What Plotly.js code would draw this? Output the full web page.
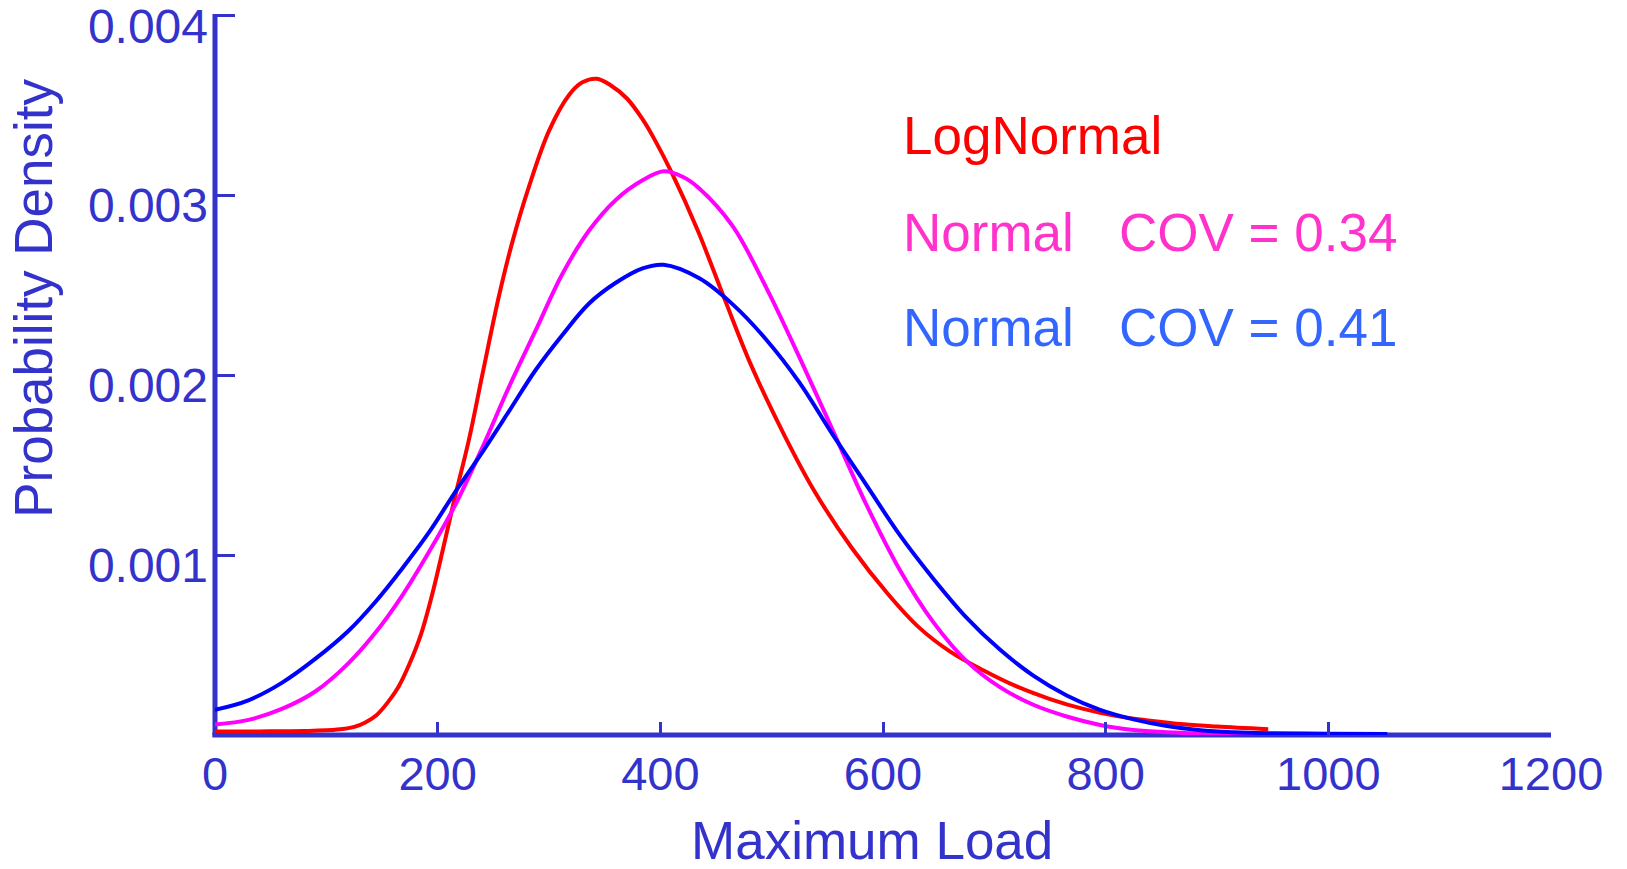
<!DOCTYPE html>
<html>
<head>
<meta charset="utf-8">
<script src="https://cdn.plot.ly/plotly-3.0.1.min.js"></script>
<style>
  html, body { margin: 0; padding: 0; background: #ffffff; }
  #chart { width: 1627px; height: 869px; }
</style>
</head>
<body>
<div id="chart"></div>
<script>
// ---- data ----
const loadLogNormal = [0, 40, 80, 110, 125, 135, 145, 155, 165, 175, 185, 195, 205, 215, 228, 240, 255, 267, 282, 300, 318, 330, 343, 355, 370, 384, 395, 410, 434, 458, 482, 512, 539, 572, 605, 632, 660, 690, 720, 750, 780, 810, 840, 870, 900, 946];
const densLogNormal = [0.00002, 0.00002, 0.000022, 0.00003, 0.000045, 0.00007, 0.00011, 0.00018, 0.00027, 0.00040, 0.00056, 0.00078, 0.00104, 0.00131, 0.00164, 0.00200, 0.00244, 0.00274, 0.00305, 0.00336, 0.00356, 0.00363, 0.00365, 0.003615, 0.00354, 0.003425, 0.00331, 0.00313, 0.00280, 0.00242, 0.00205, 0.00166, 0.00135, 0.00104, 0.00078, 0.00060, 0.000465, 0.00036, 0.00027, 0.00020, 0.000145, 0.000105, 0.00008, 0.00006, 0.000047, 0.000032];

const loadNormal34 = [0, 30, 60, 90, 120, 144, 168, 192, 216, 240, 264, 288, 312, 336, 360, 384, 403, 420, 435, 465, 495, 525, 555, 585, 615, 645, 675, 705, 735, 765, 795, 825, 855, 885, 915, 950];
const densNormal34 = [0.000058, 0.000084, 0.000145, 0.000242, 0.00040, 0.000568, 0.000774, 0.001016, 0.001282, 0.001597, 0.001935, 0.00225, 0.002564, 0.002806, 0.002976, 0.003085, 0.003135, 0.003105, 0.00304, 0.00283, 0.00249, 0.00210, 0.001693, 0.001282, 0.000919, 0.000629, 0.000411, 0.000266, 0.000168, 0.000103, 0.000056, 0.000028, 0.000015, 0.000008, 0.000004, 0.000002];

const loadNormal41 = [0, 30, 60, 90, 120, 144, 168, 192, 216, 240, 264, 288, 312, 336, 360, 384, 403, 435, 465, 495, 525, 555, 585, 615, 645, 675, 705, 735, 765, 795, 825, 855, 885, 915, 946, 1000, 1053];
const densNormal41 = [0.00014, 0.000193, 0.00029, 0.000423, 0.00058, 0.00074, 0.000925, 0.001125, 0.001354, 0.001572, 0.00180, 0.00203, 0.002225, 0.00240, 0.002515, 0.002595, 0.002615, 0.00254, 0.002395, 0.00220, 0.00196, 0.001669, 0.001391, 0.001113, 0.000871, 0.000653, 0.000475, 0.00033, 0.00022, 0.00014, 0.000087, 0.00005, 0.000026, 0.000015, 0.00001, 0.000007, 0.000005];

const xTickVals = [0, 200, 400, 600, 800, 1000, 1200];
const xTickText = ["0", "200", "400", "600", "800", "1000", "1200"];
const yTickVals = [0.001, 0.002, 0.003, 0.004];
const yTickText = ["0.001", "0.002", "0.003", "0.004"];

const xTitle = "Maximum Load";
const yTitle = "Probability Density";
const labelNames = ["LogNormal", "Normal", "Normal"];
const labelCovs = ["", "COV = 0.34", "COV = 0.41"];

// ---- styling ----
const axisColor = "#3333cc";
const fontFam = "'Liberation Sans', Arial, Helvetica, sans-serif";
const lineColors = ["#ff0000", "#ff00ff", "#0000ff"];
const labelColors = ["#ff0000", "#ff33cc", "#3366ff"];
const labelY = [0.003332, 0.002797, 0.002269];
const labelXName = 616;
const labelXCov = 810;

const lineStyle = (c) => ({color: c, width: 4, shape: "spline", smoothing: 1});
const traces = [
  {x: loadLogNormal, y: densLogNormal, mode: "lines", line: lineStyle(lineColors[0]), hoverinfo: "skip"},
  {x: loadNormal34, y: densNormal34, mode: "lines", line: lineStyle(lineColors[1]), hoverinfo: "skip"},
  {x: loadNormal41, y: densNormal41, mode: "lines", line: lineStyle(lineColors[2]), hoverinfo: "skip"}
];

const annotations = [];
for (let i = 0; i < 3; i++) {
  annotations.push({x: labelXName, y: labelY[i], xref: "x", yref: "y", text: labelNames[i], showarrow: false,
    xanchor: "left", yanchor: "middle", font: {family: fontFam, size: 53, color: labelColors[i]}});
  if (labelCovs[i]) {
    annotations.push({x: labelXCov, y: labelY[i], xref: "x", yref: "y", text: labelCovs[i], showarrow: false,
      xanchor: "left", yanchor: "middle", font: {family: fontFam, size: 53, color: labelColors[i]}});
  }
}
annotations.push({x: 0.4918, y: -0.146, xref: "paper", yref: "paper", text: xTitle, showarrow: false,
  xanchor: "center", yanchor: "middle", font: {family: fontFam, size: 53, color: axisColor}});
annotations.push({x: -0.1355, y: 0.6063, xref: "paper", yref: "paper", text: yTitle, showarrow: false, textangle: -90,
  xanchor: "center", yanchor: "middle", font: {family: fontFam, size: 53, color: axisColor}});

const layout = {
  width: 1627, height: 869,
  margin: {l: 215, r: 76, t: 14, b: 134, pad: 0},
  paper_bgcolor: "#ffffff", plot_bgcolor: "#ffffff",
  showlegend: false,
  font: {family: fontFam, color: axisColor},
  xaxis: {
    range: [0, 1200], tickmode: "array", tickvals: xTickVals, ticktext: xTickText,
    ticks: "inside", ticklen: 13, tickwidth: 3, tickcolor: axisColor,
    showline: false, showgrid: false, zeroline: false, ticklabelstandoff: 7,
    ticklabeloverflow: "allow",
    tickfont: {family: fontFam, size: 47, color: axisColor}, fixedrange: true
  },
  yaxis: {
    range: [0, 0.00401], tickmode: "array", tickvals: yTickVals, ticktext: yTickText,
    ticks: "inside", ticklen: 20, tickwidth: 3, tickcolor: axisColor,
    showline: false, showgrid: false, zeroline: false, ticklabelstandoff: 6, ticklabelshift: 10,
    ticklabeloverflow: "allow",
    tickfont: {family: fontFam, size: 48, color: axisColor}, fixedrange: true
  },
  shapes: [
    {type: "line", xref: "paper", yref: "paper", x0: -0.002, x1: 1, y0: 0, y1: 0, layer: "below", line: {color: axisColor, width: 5}},
    {type: "line", xref: "paper", yref: "paper", x0: 0, x1: 0, y0: 0, y1: 1, layer: "below", line: {color: axisColor, width: 5}}
  ],
  annotations: annotations
};

Plotly.newPlot("chart", traces, layout, {staticPlot: true, displayModeBar: false});
</script>
</body>
</html>
